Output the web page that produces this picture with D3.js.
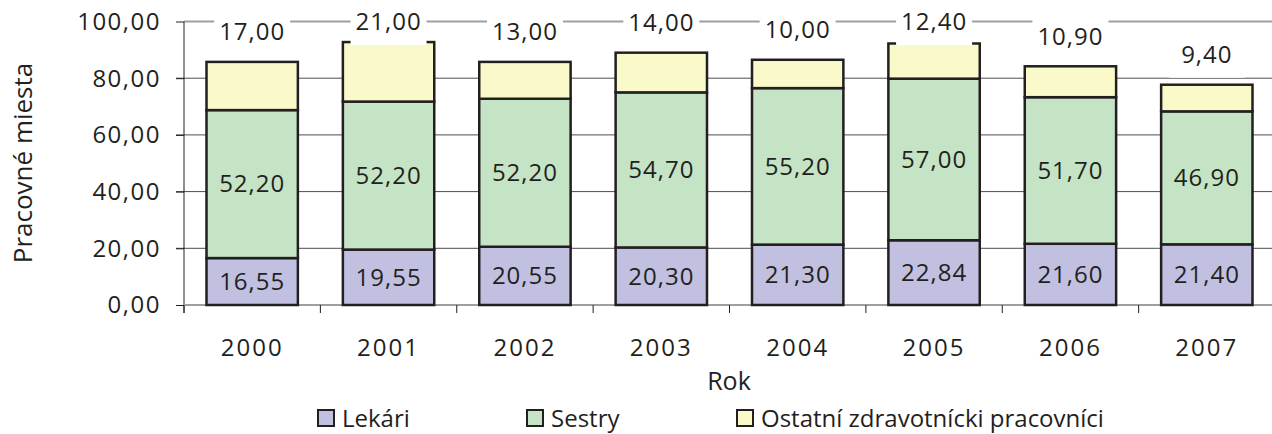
<!DOCTYPE html>
<html>
<head>
<meta charset="utf-8">
<script src="https://cdn.jsdelivr.net/npm/d3@7"></script>
<style>
  body { margin: 0; background: #fff; }
  text { font-family: "Open Sans", sans-serif; fill: #231f20; }
</style>
</head>
<body>
<script>
// chart data
var years = ["2000", "2001", "2002", "2003", "2004", "2005", "2006", "2007"];
var lekari = [16.55, 19.55, 20.55, 20.30, 21.30, 22.84, 21.60, 21.40];
var sestry = [52.20, 52.20, 52.20, 54.70, 55.20, 57.00, 51.70, 46.90];
var ostatni = [17.00, 21.00, 13.00, 14.00, 10.00, 12.40, 10.90, 9.40];
var seriesNames = ["Lekári", "Sestry", "Ostatní zdravotnícki pracovníci"];
var seriesColors = ["#c1c0e0", "#c5e3c5", "#f9f9c9"];
var yTicks = [0, 20, 40, 60, 80, 100];

var svgWidth = 1272, svgHeight = 434;
var fmt = function(v) { return v.toFixed(2).replace(".", ","); };

var svg = d3.select("body").append("svg")
  .attr("width", svgWidth)
  .attr("height", svgHeight);

var xScale = d3.scaleBand()
  .domain(years)
  .range([184, 1275])
  .paddingInner(0.33)
  .paddingOuter(0.165);

var yScale = d3.scaleLinear()
  .domain([0, 100])
  .range([305, 21.5]);

// build stack table
var table = years.map(function(y, i) {
  return { year: y, lekari: lekari[i], sestry: sestry[i], ostatni: ostatni[i] };
});
var stack = d3.stack().keys(["lekari", "sestry", "ostatni"])(table);

// gridlines
svg.append("g").selectAll("line")
  .data(yTicks.filter(function(t) { return t > 0 && t < 100; }))
  .enter().append("line")
  .attr("x1", 176).attr("x2", svgWidth)
  .attr("y1", function(d) { return yScale(d); })
  .attr("y2", function(d) { return yScale(d); })
  .attr("stroke", "#4d4d4f").attr("stroke-width", 1);

// top border line (100)
svg.append("line")
  .attr("x1", 184).attr("x2", svgWidth)
  .attr("y1", yScale(100)).attr("y2", yScale(100))
  .attr("stroke", "#9d9fa2").attr("stroke-width", 2);

// y axis
var yAxis = d3.axisLeft(yScale).tickValues(yTicks).tickSize(8).tickPadding(15)
  .tickFormat(fmt);
var yG = svg.append("g").attr("transform", "translate(184,0)").call(yAxis);
yG.select(".domain").attr("stroke", "#231f20").attr("d", "M0," + yScale(100) + "V313");
yG.selectAll(".tick line").attr("stroke", "#231f20");
yG.selectAll(".tick text").style("font-size", "24px").style("letter-spacing", "1.5px")
  .attr("font-family", null).attr("fill", "#231f20").attr("dy", "0.33em");

// x axis line & ticks at category boundaries
svg.append("line")
  .attr("x1", 184).attr("x2", svgWidth)
  .attr("y1", yScale(0)).attr("y2", yScale(0))
  .attr("stroke", "#9d9fa2").attr("stroke-width", 2);
var step = xScale.step();
svg.append("g").selectAll("line")
  .data(years)
  .enter().append("line")
  .attr("x1", function(d) { return xScale(d) - xScale.paddingInner() * step / 2; })
  .attr("x2", function(d) { return xScale(d) - xScale.paddingInner() * step / 2; })
  .attr("y1", yScale(0)).attr("y2", yScale(0) + 8)
  .attr("stroke", "#231f20").attr("stroke-width", 1);

svg.append("g").selectAll("text")
  .data(years)
  .enter().append("text")
  .attr("x", function(d) { return xScale(d) + xScale.bandwidth() / 2; })
  .attr("y", 348)
  .attr("dy", "0.35em")
  .attr("text-anchor", "middle")
  .style("font-size", "24px").style("letter-spacing", "2px")
  .text(function(d) { return d; });

// bars
var layers = svg.append("g").selectAll("g")
  .data(stack)
  .enter().append("g")
  .attr("fill", function(d, i) { return seriesColors[i]; });

layers.selectAll("rect")
  .data(function(d) { return d; })
  .enter().append("rect")
  .attr("x", function(d) { return xScale(d.data.year); })
  .attr("y", function(d) { return yScale(d[1]); })
  .attr("width", xScale.bandwidth())
  .attr("height", function(d) { return yScale(d[0]) - yScale(d[1]); })
  .attr("stroke", "#231f20")
  .attr("stroke-width", 2.5);

// inner labels (Lekári, Sestry)
stack.slice(0, 2).forEach(function(layer) {
  svg.append("g").selectAll("text")
    .data(layer)
    .enter().append("text")
    .attr("x", function(d) { return xScale(d.data.year) + xScale.bandwidth() / 2; })
    .attr("y", function(d) { return yScale((d[0] + d[1]) / 2); })
    .attr("dy", "0.35em")
    .attr("text-anchor", "middle")
    .style("font-size", "24px").style("letter-spacing", "1px")
    .text(function(d) { return fmt(d[1] - d[0]); });
});

// top labels with white background
var topLayer = stack[2];
var topG = svg.append("g").selectAll("g")
  .data(topLayer)
  .enter().append("g")
  .attr("transform", function(d) {
    var cy = Math.max(yScale(d[1]) - 30, 22);
    return "translate(" + (xScale(d.data.year) + xScale.bandwidth() / 2) + "," + cy + ")";
  });
topG.append("rect")
  .attr("x", -38).attr("y", -20).attr("width", 76).attr("height", 43)
  .attr("fill", "#fff");
topG.append("text")
  .attr("dy", "0.35em")
  .attr("text-anchor", "middle")
  .style("font-size", "24px").style("letter-spacing", "1px")
  .text(function(d) { return fmt(d[1] - d[0]); });

// axis titles
svg.append("text")
  .attr("transform", "translate(32,163) rotate(-90)")
  .attr("text-anchor", "middle")
  .style("font-size", "26px")
  .text("Pracovné miesta");

svg.append("text")
  .attr("x", 729).attr("y", 381)
  .attr("dy", "0.35em")
  .attr("text-anchor", "middle")
  .style("font-size", "25px")
  .text("Rok");

// legend
var legendX = [318, 527, 737];
var legend = svg.append("g").selectAll("g")
  .data(seriesNames)
  .enter().append("g")
  .attr("transform", function(d, i) { return "translate(" + legendX[i] + ",410)"; });
legend.append("rect")
  .attr("width", 16).attr("height", 16)
  .attr("fill", function(d, i) { return seriesColors[i]; })
  .attr("stroke", "#231f20").attr("stroke-width", 2);
legend.append("text")
  .attr("x", 24).attr("y", 9).attr("dy", "0.35em")
  .style("font-size", "24px")
  .text(function(d) { return d; });
</script>
</body>
</html>
